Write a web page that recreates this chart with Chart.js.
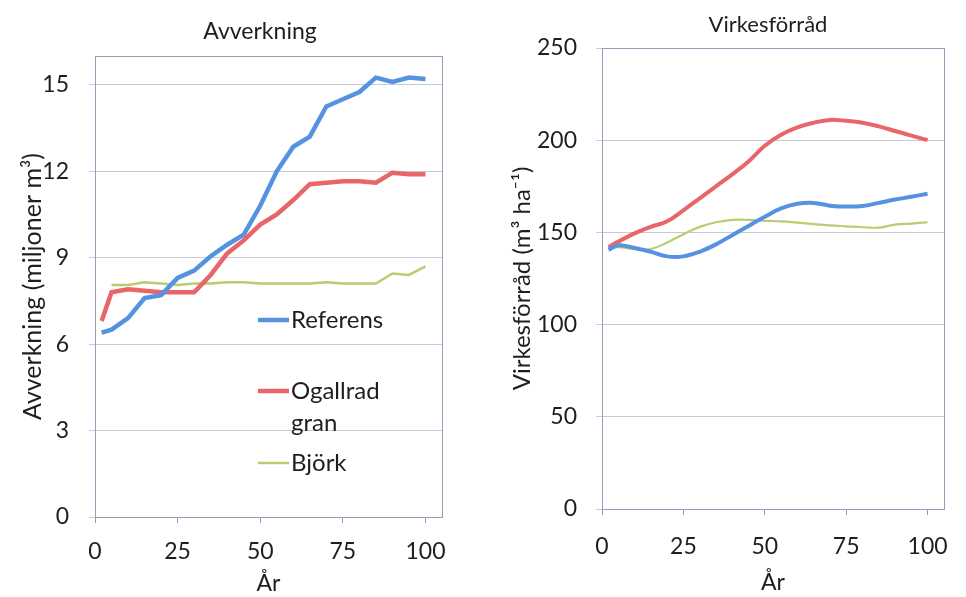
<!DOCTYPE html>
<html><head><meta charset="utf-8">
<script src="https://cdn.jsdelivr.net/npm/chart.js@4.4.1/dist/chart.umd.min.js"></script>
<style>
html,body{margin:0;padding:0;background:#fff;}
#wrap{position:relative;width:966px;height:597px;background:#fff;}
#c1{position:absolute;left:0;top:0;}
#c2{position:absolute;left:483px;top:0;}
</style></head><body>
<div id="wrap"><canvas id="c1" width="483" height="597"></canvas><canvas id="c2" width="483" height="597"></canvas></div>
<script>
// ---- data ----
const years = [2, 5, 10, 15, 20, 25, 30, 35, 40, 45, 50, 55, 60, 65, 70, 75, 80, 85, 90, 95, 100];
const seriesNames = ['Referens', 'Ogallrad gran', 'Björk'];

// Avverkning (miljoner m3)
const avvReferens = [6.4, 6.5, 6.9, 7.6, 7.7, 8.3, 8.55, 9.05, 9.45, 9.8, 10.8, 12.0, 12.85, 13.2, 14.25, 14.5, 14.75, 15.25, 15.1, 15.25, 15.2];
const avvOgallrad = [6.8, 7.8, 7.9, 7.85, 7.8, 7.8, 7.8, 8.4, 9.15, 9.6, 10.15, 10.5, 11.0, 11.55, 11.6, 11.65, 11.65, 11.6, 11.95, 11.9, 11.9];
const avvBjork    = [null, 8.05, 8.05, 8.15, 8.1, 8.05, 8.1, 8.1, 8.15, 8.15, 8.1, 8.1, 8.1, 8.1, 8.15, 8.1, 8.1, 8.1, 8.45, 8.4, 8.7];

// Virkesförråd (m3 ha-1)
const virReferens = [140.5, 143, 141.5, 139.5, 137, 137, 139.5, 143.5, 148.5, 153.5, 158.5, 163, 165.5, 166, 164.5, 164, 164.3, 166, 167.8, 169.3, 171];
const virOgallrad = [142, 145, 149.5, 153, 156, 162, 168.5, 175, 181.5, 188.5, 197, 203, 207, 209.5, 211, 210.5, 209.5, 207.5, 205, 202.5, 200];
const virBjork    = [141.5, 142, 141, 141, 144.5, 149, 153, 155.5, 156.8, 156.8, 156.3, 156, 155.3, 154.5, 153.8, 153.3, 152.8, 152.6, 154.2, 154.8, 155.5];

// tick labels
const xTicks = [0, 25, 50, 75, 100];
const yTicksAvv = [0, 3, 6, 9, 12, 15];
const yTicksVir = [0, 50, 100, 150, 200, 250];

// ---- styles ----
const FONT = 'Lato, "Open Sans", sans-serif';
const TXT = '#1e1e1e';
const BLUE = '#5592df';
const RED = '#e8656a';
const GREEN = '#b9cc6e';
const GRID = '#c9c9d3';
const AXIS = '#9a9abb';

const frame = {
  id: 'frame',
  beforeDatasetsDraw(chart, args, opts) {
    const {ctx, chartArea: a} = chart;
    ctx.save();
    ctx.strokeStyle = opts.color;
    ctx.lineWidth = 1;
    ctx.strokeRect(Math.round(a.left) + 0.5, Math.round(a.top) + 0.5, Math.round(a.right - a.left), Math.round(a.bottom - a.top));
    ctx.restore();
  }
};

const panelTitle = {
  id: 'panelTitle',
  afterDraw(chart, args, opts) {
    if (!opts.text) return;
    const ctx = chart.ctx;
    ctx.save();
    ctx.font = opts.size + 'px ' + FONT;
    ctx.fillStyle = TXT;
    ctx.textAlign = 'center';
    ctx.textBaseline = 'middle';
    ctx.fillText(opts.text, opts.x, opts.y);
    ctx.restore();
  }
};

const insideLegend = {
  id: 'insideLegend',
  afterDatasetsDraw(chart, args, opts) {
    if (!opts.ys) return;
    const ctx = chart.ctx;
    ctx.save();
    ctx.font = opts.size + 'px ' + FONT;
    ctx.textBaseline = 'middle';
    chart.data.datasets.forEach((ds, i) => {
      const y = opts.ys[i];
      const words = ds.label.split(' ');
      const lines = [];
      let cur = '';
      words.forEach(w => {
        const t = cur ? cur + ' ' + w : w;
        if (ctx.measureText(t).width > opts.maxWidth && cur) { lines.push(cur); cur = w; } else cur = t;
      });
      lines.push(cur);
      ctx.strokeStyle = ds.borderColor;
      ctx.lineWidth = ds.borderWidth;
      ctx.beginPath();
      ctx.moveTo(opts.x, y);
      ctx.lineTo(opts.x + opts.lineLen, y);
      ctx.stroke();
      ctx.fillStyle = TXT;
      lines.forEach((ln, k) => ctx.fillText(ln, opts.x + opts.lineLen + 2, y + k * opts.lineHeight));
    });
    ctx.restore();
  }
};

function toPts(vals) { return years.map((x, i) => ({x: x, y: vals[i]})); }

function makeScales(cfg) {
  return {
    x: {
      type: 'linear', min: 0, max: 105,
      afterBuildTicks: s => { s.ticks = xTicks.map(v => ({value: v})); },
      afterFit: s => { s.height = cfg.xHeight; },
      grid: {drawOnChartArea: false, drawTicks: true, tickLength: 6, color: AXIS},
      border: {color: AXIS, width: 1},
      ticks: {padding: cfg.xPad, font: {family: FONT, size: 23}, color: TXT, maxRotation: 0},
      title: {display: true, text: 'År', font: {family: FONT, size: 23}, color: TXT, padding: {top: 0, bottom: cfg.xTitlePad}}
    },
    y: {
      min: 0, max: cfg.yMax,
      afterBuildTicks: s => { s.ticks = cfg.yTicks.map(v => ({value: v})); },
      afterFit: s => { s.width = cfg.yWidth; },
      grid: {color: GRID, tickLength: 6, drawTicks: true},
      border: {color: AXIS, width: 1},
      ticks: {padding: cfg.yPad, font: {family: FONT, size: 23}, color: TXT},
      title: {display: true, text: cfg.yTitle, font: {family: FONT, size: cfg.yTitleSize}, color: TXT, padding: {top: cfg.yTitlePad, bottom: 0}}
    }
  };
}

// ---- left chart: Avverkning ----
new Chart(document.getElementById('c1'), {
  type: 'line',
  data: {
    datasets: [
      {label: seriesNames[0], data: toPts(avvReferens), borderColor: BLUE, borderWidth: 4.5, pointRadius: 0, tension: 0},
      {label: seriesNames[1], data: toPts(avvOgallrad), borderColor: RED, borderWidth: 4.5, pointRadius: 0, tension: 0},
      {label: seriesNames[2], data: toPts(avvBjork), borderColor: GREEN, borderWidth: 2.5, pointRadius: 0, tension: 0}
    ]
  },
  options: {
    responsive: false, animation: false, devicePixelRatio: 1,
    layout: {padding: {top: 56, right: 41, bottom: 0, left: 0}},
    scales: makeScales({xHeight: 80, xPad: 15, xTitlePad: 0, yMax: 16, yTicks: yTicksAvv, yWidth: 95, yPad: 20, yTitle: 'Avverkning (miljoner m³)', yTitleSize: 25, yTitlePad: 18}),
    plugins: {
      legend: {display: false}, tooltip: {enabled: false},
      frame: {color: AXIS},
      panelTitle: {text: 'Avverkning', x: 260, y: 32, size: 23},
      insideLegend: {x: 258, lineLen: 31, ys: [320, 391, 463], lineHeight: 32, size: 24, maxWidth: 120}
    }
  },
  plugins: [frame, panelTitle, insideLegend]
});

// ---- right chart: Virkesförråd ----
new Chart(document.getElementById('c2'), {
  type: 'line',
  data: {
    datasets: [
      {label: seriesNames[0], data: toPts(virReferens), borderColor: BLUE, borderWidth: 4, pointRadius: 0, tension: 0.4},
      {label: seriesNames[1], data: toPts(virOgallrad), borderColor: RED, borderWidth: 4, pointRadius: 0, tension: 0.4},
      {label: seriesNames[2], data: toPts(virBjork), borderColor: GREEN, borderWidth: 2.2, pointRadius: 0, tension: 0.4}
    ]
  },
  options: {
    responsive: false, animation: false, devicePixelRatio: 1,
    layout: {padding: {top: 48, right: 9, bottom: 0, left: 0}},
    scales: makeScales({xHeight: 88, xPad: 18, xTitlePad: 1, yMax: 250, yTicks: yTicksVir, yWidth: 119, yPad: 19, yTitle: 'Virkesförråd (m³ ha⁻¹)', yTitleSize: 24, yTitlePad: 25}),
    plugins: {
      legend: {display: false}, tooltip: {enabled: false},
      frame: {color: AXIS},
      panelTitle: {text: 'Virkesförråd', x: 285, y: 25, size: 22}
    }
  },
  plugins: [frame, panelTitle]
});
</script>
</body></html>
